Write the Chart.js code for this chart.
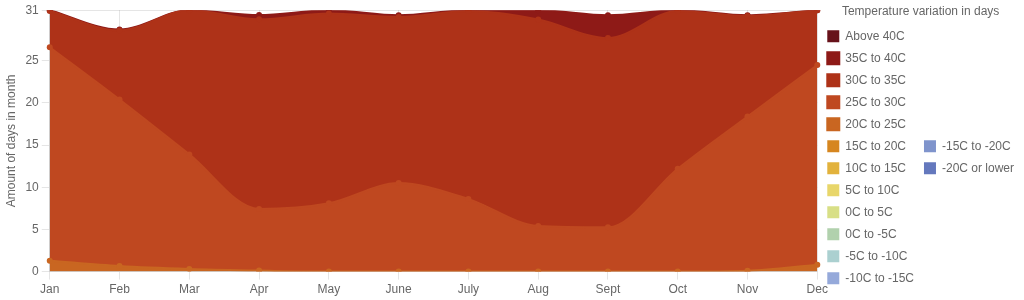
<!DOCTYPE html>
<html>
<head>
<meta charset="utf-8">
<script src="https://cdn.jsdelivr.net/npm/chart.js@4/dist/chart.umd.min.js"></script>
<style>
  html, body { margin: 0; padding: 0; background: #fff; }
  #wrap { width: 1024px; height: 300px; }
</style>
</head>
<body>
<div id="wrap"><canvas id="tempChart"></canvas></div>
<script>
const months = ['Jan', 'Feb', 'Mar', 'Apr', 'May', 'June', 'July', 'Aug', 'Sept', 'Oct', 'Nov', 'Dec'];

// bands from coldest (bottom of the stack) to hottest (top)
const bandNames = [
  '-20C or lower', '-15C to -20C', '-10C to -15C', '-5C to -10C', '0C to -5C', '0C to 5C',
  '5C to 10C', '10C to 15C', '15C to 20C', '20C to 25C', '25C to 30C', '30C to 35C',
  '35C to 40C', 'Above 40C'
];

const zeros = [0, 0, 0, 0, 0, 0, 0, 0, 0, 0, 0, 0];
const days20to25 = [1.3, 0.65, 0.3, 0.12, 0, 0, 0, 0, 0, 0, 0.1, 0.8];
const days25to30 = [25.3, 19.75, 13.6, 7.3, 8.1, 10.5, 8.6, 5.4, 5.25, 12.2, 18.3, 23.7];
const days30to35 = [4.3, 8.2, 17.1, 22.5, 22.5, 19.7, 22.3, 24.5, 22.45, 18.7, 11.9, 6.5];
const days35to40 = [0.1, 0.1, 0, 0.5, 0.4, 0.2, 0.1, 1.1, 2.7, 0.1, 0.1, 0];
const daysAbove40 = [0, 0, 0, 0, 0, 0, 0, 0, 0, 0, 0, 0];

const bandValues = [
  zeros, zeros, zeros, zeros, zeros, zeros,
  zeros, zeros, zeros, days20to25, days25to30, days30to35,
  days35to40, daysAbove40
];

const bandColors = [
  '#6478bd', '#7f94cc', '#95a9da', '#abd0d0', '#b1d1ad', '#d8df86',
  '#e8d66a', '#e2b23c', '#d6861f', '#c96621', '#bf4820', '#ae3218',
  '#8e1a17', '#67121a'
];

const datasets = bandNames.map((name, i) => {
  const empty = bandValues[i].every(v => v === 0);
  return {
    label: name,
    data: bandValues[i],
    backgroundColor: bandColors[i],
    borderColor: bandColors[i],
    borderWidth: empty ? 0 : 2,
    pointRadius: empty ? 0 : 3,
    pointBackgroundColor: bandColors[i],
    pointBorderWidth: 0,
    fill: i === 0 ? 'origin' : '-1',
    cubicInterpolationMode: 'monotone'
  };
});

const ctx = document.getElementById('tempChart').getContext('2d');
new Chart(ctx, {
  type: 'line',
  data: { labels: months, datasets: datasets },
  options: {
    responsive: true,
    maintainAspectRatio: false,
    animation: false,
    plugins: {
      legend: {
        position: 'right',
        reverse: true,
        title: { display: true, text: 'Temperature variation in days', color: '#666' },
        labels: { boxWidth: 12, boxHeight: 12, color: '#666', font: { size: 12 } }
      },
      tooltip: { enabled: false }
    },
    scales: {
      x: {
        ticks: { color: '#666' },
        grid: { color: 'rgba(0,0,0,0.1)' }
      },
      y: {
        stacked: true,
        min: 0,
        max: 31,
        ticks: { stepSize: 5, color: '#666' },
        grid: { color: 'rgba(0,0,0,0.1)' },
        title: { display: true, text: 'Amount of days in month', color: '#666' }
      }
    }
  }
});
</script>
</body>
</html>
